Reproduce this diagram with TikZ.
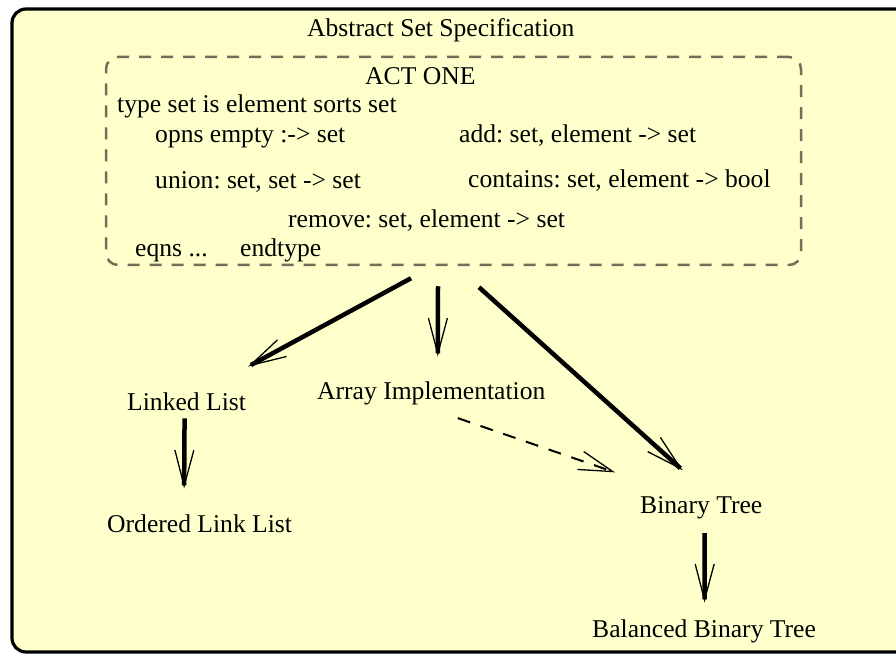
\documentclass[tikz,border=0pt]{standalone}
\usepackage{fontspec}
\setmainfont{Liberation Serif}
\usepackage{xcolor}
\usetikzlibrary{calc,positioning,arrows.meta}
\definecolor{color_fill_panel}{HTML}{ffffcc}
\definecolor{color_dash_spec}{HTML}{70705a}
\frenchspacing

\begin{document}
\begin{tikzpicture}[x=1pt,y=1pt,
		txt/.style={inner sep=0pt,font=\fontsize{25.6}{30}\selectfont},
		codeline/.style={txt,anchor=base west},
		specbox/.style={draw=color_dash_spec,line width=2.5pt,dash pattern=on 12pt off 10pt,
			rounded corners=12pt,minimum width=695pt,minimum height=208pt,inner sep=0pt},
		impl/.style={line width=4.5pt,-{Straight Barb[length=36pt,width=19pt,line width=1.3pt]}},
		uses/.style={line width=2pt,dash pattern=on 13pt off 11pt,-{Straight Barb[length=34pt,width=19pt,line width=1.3pt]}}]
	\useasboundingbox (0, 0) rectangle (896, 654);
	\clip (0, 0) rectangle (896, 654);
	
	% Panel
	\draw[line width=3.2pt,fill=color_fill_panel,rounded corners=14pt] (12, 2) rectangle (910, 645);
	\node[codeline] (title) at (307, 617) {Abstract Set Specification};
	
	% Specification
	\node[specbox] (spec) at (453.5, 493) {};
	\node[codeline] (actone) at (365, 569) {ACT ONE};
	\node[codeline] (typeline) at (117, 541) {type set is element sorts set};
	\node[codeline] (opns) at (155, 511) {opns empty :-> set};
	\node[codeline] (add) at (459, 511) {add: set, element -> set};
	\node[codeline] (union) at (155, 465) {union: set, set -> set};
	\node[codeline] (contains) at (468, 466) {contains: set, element -> bool};
	\node[codeline] (remove) at (288, 426) {remove: set, element -> set};
	\node[codeline] (eqns) at (135, 397) {eqns ...};
	\node[codeline] (endtype) at (240, 397) {endtype};
	
	% Implementations
	\node[codeline] (linked) at (127, 244) {Linked List};
	\node[codeline] (array) at (317, 255) {Array Implementation};
	\node[codeline] (ordered) at (107, 122) {Ordered Link List};
	\node[codeline] (bintree) at (640, 141) {Binary Tree};
	\node[codeline] (balanced) at (592, 17) {Balanced Binary Tree};
	
	% Arrows
	\draw[impl] ([shift={(-42.5,-12)}]spec.south) -- ([shift={(2,25.5)}]linked.north east);
	\draw[impl] ([shift={(-15.5,-20)}]spec.south) -- ([shift={(6.5,24.5)}]array.north);
	\draw[impl] ([shift={(25.5,-21)}]spec.south) -- ([shift={(-18.5,25.5)}]bintree.north);
	\draw[impl] ([shift={(-2,-8)}]linked.south) -- ([shift={(-15.5,25.5)}]ordered.north);
	\draw[impl] ([shift={(3.5,-14.4)}]bintree.south) -- ([shift={(0.5,16.5)}]balanced.north);
	\draw[uses] ([shift={(26.5,-13.4)}]array.south) -- ([shift={(-25,23.5)}]bintree.north west);
\end{tikzpicture}
\end{document}
